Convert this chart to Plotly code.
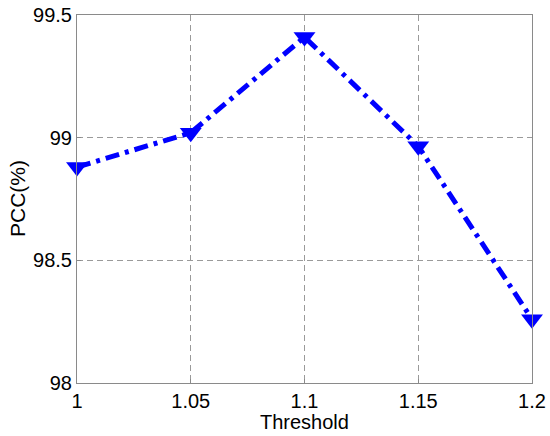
import plotly.graph_objects as go

thresholds = [1.0, 1.05, 1.1, 1.15, 1.2]
pcc = [98.88, 99.02, 99.41, 98.965, 98.26]
x_ticks = [1.0, 1.05, 1.1, 1.15, 1.2]
x_tick_text = ["1", "1.05", "1.1", "1.15", "1.2"]
y_ticks = [98.0, 98.5, 99.0, 99.5]
y_tick_text = ["98", "98.5", "99", "99.5"]

FONT = "Liberation Sans, Arial"

fig = go.Figure()
fig.add_trace(go.Scatter(
    x=thresholds, y=pcc, mode="lines+markers",
    line=dict(color="#0000ff", width=5, dash="14px,6px,4px,6px"),
    marker=dict(symbol="triangle-down", size=19, color="#0000ff"),
    cliponaxis=False, showlegend=False,
))

axis_common = dict(
    showline=True, linecolor="#8a8a8a", linewidth=1, mirror=True,
    showgrid=True, gridcolor="#9a9a9a", griddash="6px,4px", gridwidth=1,
    zeroline=False, ticks="inside", ticklen=4, tickcolor="#8a8a8a",
    automargin=False, ticklabeloverflow="allow",
    tickfont=dict(family=FONT, size=20, color="#000"),
)
fig.update_xaxes(range=[1.0, 1.2], tickvals=x_ticks, ticktext=x_tick_text, **axis_common)
fig.update_yaxes(range=[98.0, 99.5], tickvals=y_ticks, ticktext=y_tick_text, **axis_common)
fig.update_layout(
    width=550, height=436, margin=dict(l=77, r=18, t=15, b=53),
    plot_bgcolor="white", paper_bgcolor="white",
    annotations=[
        dict(text="Threshold", xref="paper", yref="paper", x=0.5, y=0,
             yshift=-39, yanchor="middle", showarrow=False,
             font=dict(family=FONT, size=20, color="#000")),
        dict(text="PCC(%)", xref="paper", yref="paper", x=0, y=0.5,
             xshift=-60, xanchor="center", yanchor="middle", textangle=-90,
             showarrow=False, font=dict(family=FONT, size=21, color="#000")),
    ],
)
fig.write_html(
    "out.html",
    config={"displayModeBar": False},
    post_script="document.body.style.margin='0';document.body.style.overflow='hidden';",
)
